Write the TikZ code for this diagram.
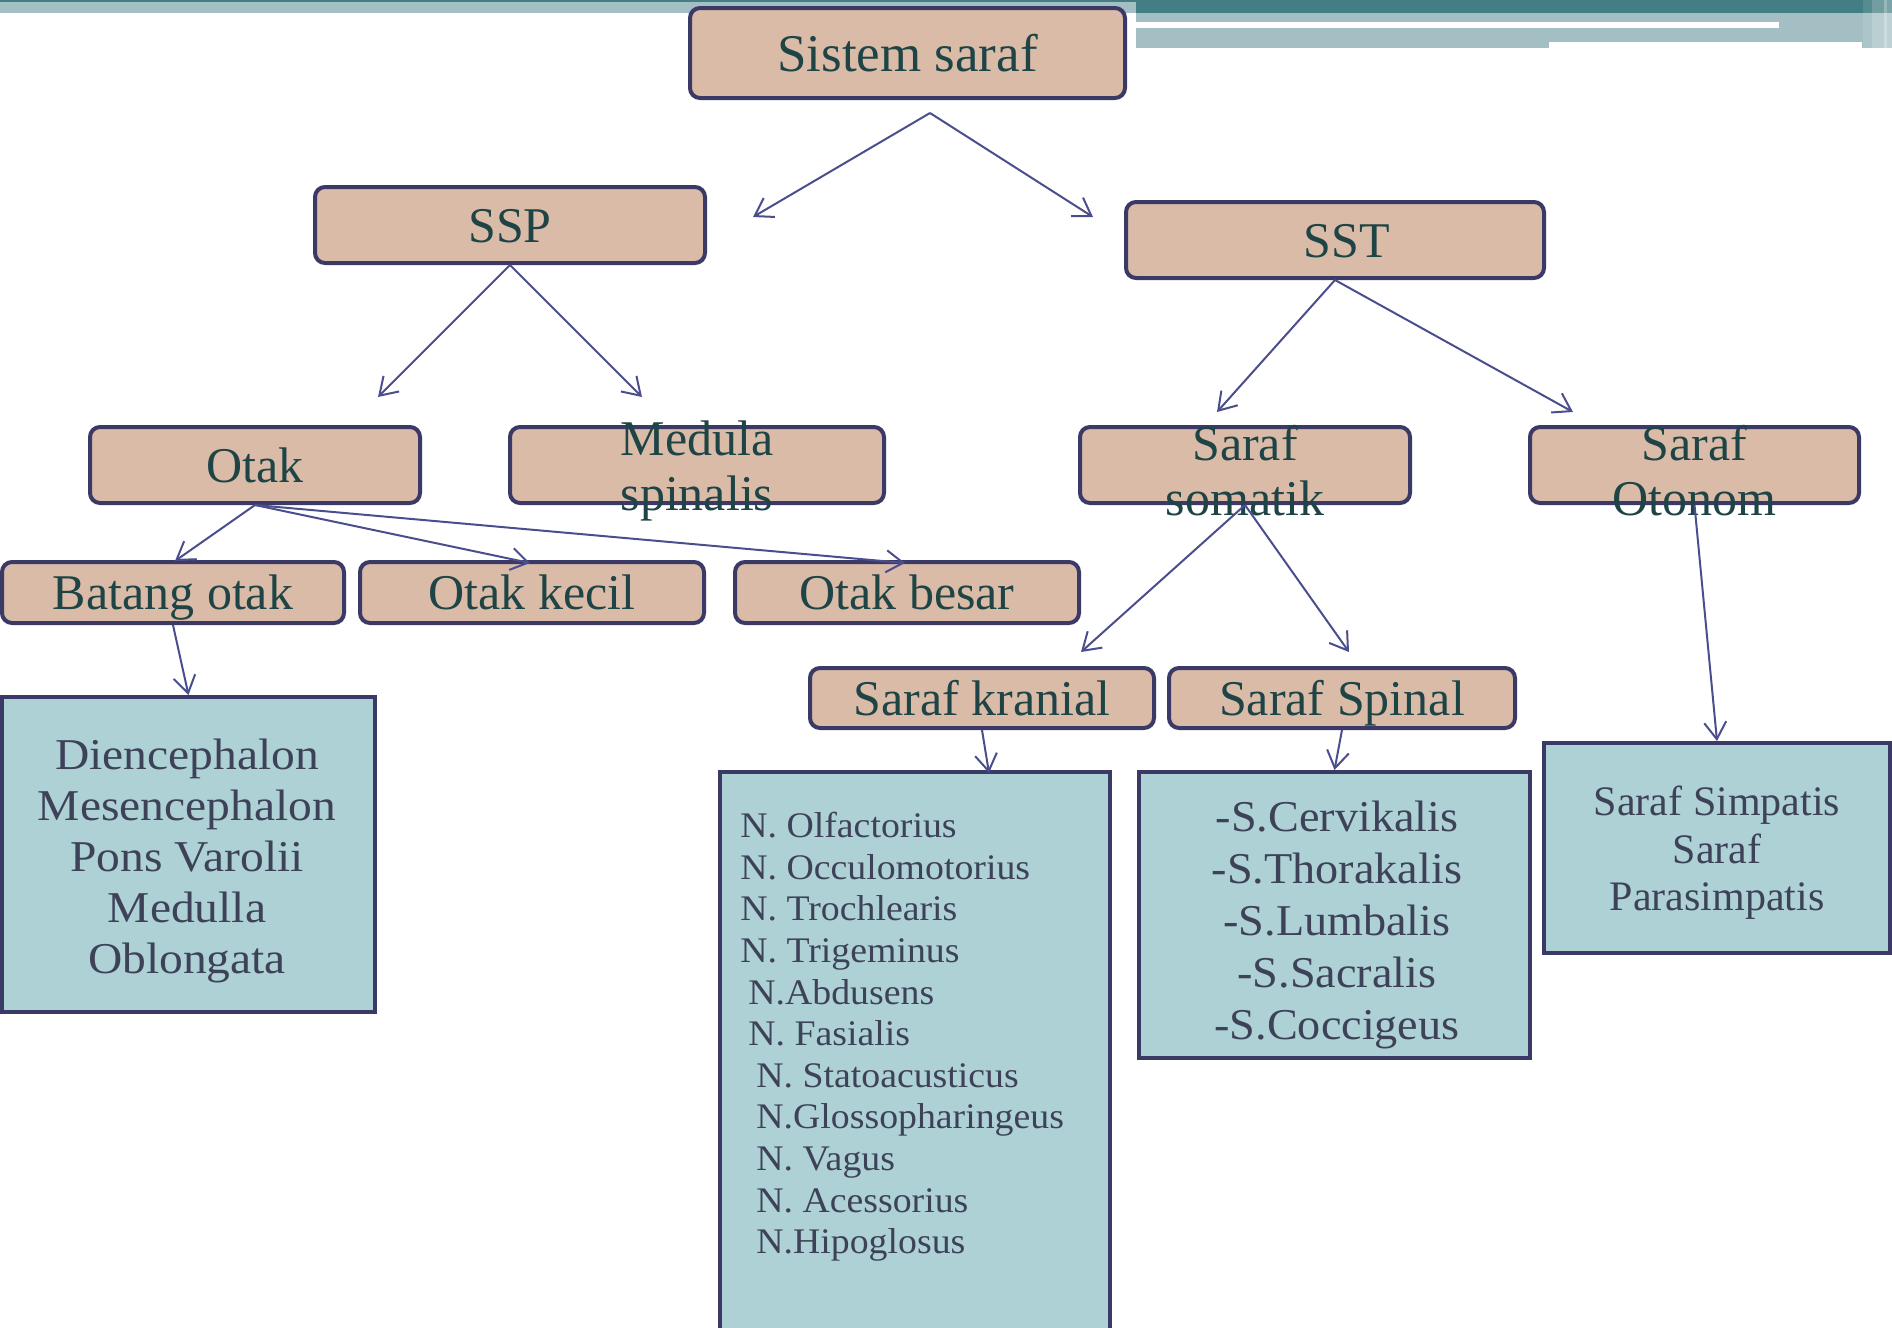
\documentclass[tikz,border=0pt]{standalone}
\usepackage{fontspec}
\setmainfont{Liberation Serif}
\newfontfamily\widefont[FakeStretch=1.08]{Liberation Serif}
\newfontfamily\nfont[FakeStretch=1.05]{Liberation Serif}
\usetikzlibrary{arrows.meta}
\definecolor{band}{HTML}{437E84}
\definecolor{bandlight}{HTML}{A3BFC3}
\definecolor{tanfill}{HTML}{D9BBA8}
\definecolor{edge}{HTML}{3B3A66}
\definecolor{aqua}{HTML}{ADD1D5}
\definecolor{ink}{HTML}{1F4446}
\definecolor{listink}{HTML}{3E4258}
\definecolor{arrowc}{HTML}{4B4E8C}

\begin{document}
\begin{tikzpicture}[x=0.5pt,y=-0.5pt,>={Straight Barb[length=8.5pt,width=11pt]},
        tanbox/.style={draw=edge,line width=2pt,fill=tanfill,rounded corners=5pt,inner sep=0pt,
            text=ink,font=\fontsize{25}{27.5}\selectfont,text height=17pt,text depth=0pt},
        twoline/.style={text=ink,font=\fontsize{25}{27.5}\selectfont,align=center,inner sep=0pt,yshift=-3pt},
        aquabox/.style={draw=edge,line width=2pt,fill=aqua,inner sep=0pt},
        listtext/.style={text=listink,align=center,inner sep=0pt},
        conn/.style={->,draw=arrowc,line width=1pt}]
                \useasboundingbox (0,0) rectangle (1892,1328);

                \fill [bandlight] (0,0) rectangle (1136,13);
                \fill [band] (0,0) rectangle (1136,2);
                \fill [band] (1136,0) rectangle (1892,13);
                \fill [bandlight] (1136,13) rectangle (1892,48);
                \fill [white] (1136,22) rectangle (1779,28);
                \fill [white] (1549,42) rectangle (1862,48);
                \fill [white,opacity=0.1] (1863,0) rectangle (1872,48);
                \fill [white,opacity=0.25] (1872,0) rectangle (1884,48);
                \fill [white,opacity=0.45] (1884,0) rectangle (1887,48);
                \fill [white,opacity=0.3] (1887,0) rectangle (1892,48);

                \node[tanbox,minimum width=217.5pt,minimum height=45pt,font=\fontsize{26.5}{29}\selectfont,text height=18pt] (sis) at (907.5,53) {Sistem saraf};
                \node[tanbox,minimum width=195pt,minimum height=38pt] (ssp) at (510,225) {SSP};
                \node[tanbox,minimum width=209pt,minimum height=38pt] (sst) at (1335,240) {\hspace*{12pt}SST};

                \node[tanbox,minimum width=165pt,minimum height=38pt] (otak) at (255,465) {Otak};
                \node[tanbox,minimum width=187pt,minimum height=38pt,label={[twoline]center:Medula\\spinalis}] (medula) at (697,465) {};
                \node[tanbox,minimum width=165pt,minimum height=38pt,label={[twoline]center:Saraf\\somatik}] (somatik) at (1245,465) {};
                \node[tanbox,minimum width=164.5pt,minimum height=38pt,label={[twoline]center:Saraf\\Otonom}] (otonom) at (1694.5,465) {};

                \node[tanbox,minimum width=171pt,minimum height=30.5pt] (batang) at (173,592.5) {Batang otak};
                \node[tanbox,minimum width=172pt,minimum height=30.5pt] (kecil) at (532,592.5) {Otak kecil};
                \node[tanbox,minimum width=172pt,minimum height=30.5pt] (besar) at (907,592.5) {Otak besar};
                \node[tanbox,minimum width=172pt,minimum height=30pt] (kranial) at (982,698) {Saraf kranial};
                \node[tanbox,minimum width=173pt,minimum height=30pt] (spinal) at (1342,698) {Saraf Spinal};

                \node[aquabox,minimum width=186.5pt,minimum height=157.5pt] (dien) at (188.5,854.5) {};
                \node[aquabox,minimum width=195pt,minimum height=284pt] (nbox) at (915,1056) {};
                \node[aquabox,minimum width=195.5pt,minimum height=143pt] (sbox) at (1334.5,915) {};
                \node[aquabox,minimum width=173pt,minimum height=105pt] (simp) at (1717,848) {};

                \node[listtext,font=\widefont\fontsize{22}{25.5}\selectfont] (dientext) at (187,861)
                    {Diencephalon\\Mesencephalon\\Pons Varolii\\Medulla\\Oblongata};
                \node[listtext,align=left,anchor=north west,font=\nfont\fontsize{18}{20.8}\selectfont] (ntext) at (740,812)
                    {N. Olfactorius\\N. Occulomotorius\\N. Trochlearis\\N. Trigeminus\\
                     \hspace*{4pt}N.Abdusens\\\hspace*{4pt}N. Fasialis\\\hspace*{8pt}N. Statoacusticus\\
                     \hspace*{8pt}N.Glossopharingeus\\\hspace*{8pt}N. Vagus\\\hspace*{8pt}N. Acessorius\\
                     \hspace*{8pt}N.Hipoglosus};
                \node[listtext,font=\nfont\fontsize{22}{25.9}\selectfont] (stext) at (1337,925)
                    {-S.Cervikalis\\-S.Thorakalis\\-S.Lumbalis\\-S.Sacralis\\-S.Coccigeus};
                \node[listtext,font=\fontsize{21}{23.75}\selectfont] (simptext) at (1717,853)
                    {Saraf Simpatis\\Saraf\\Parasimpatis};

                \coordinate (sisA) at (930,113);
                \coordinate (sspT) at (753,217);
                \coordinate (sstT) at (1093,217);
                \coordinate (otakT) at (378,397);
                \coordinate (medT) at (642,397);
                \coordinate (somT) at (1217,412);
                \coordinate (otoT) at (1573,412);
                \coordinate (batT) at (175,561);
                \coordinate (kecT) at (530,563);
                \coordinate (besT) at (905,563);
                \coordinate (kraT) at (1081,652);
                \coordinate (spiT) at (1349,652);
                \coordinate (nboxT) at (989,773);

                \draw[conn] (sisA) -- (sspT);
                \draw[conn] (sisA) -- (sstT);
                \draw[conn] (ssp.south) -- (otakT);
                \draw[conn] (ssp.south) -- (medT);
                \draw[conn] (sst.south) -- (somT);
                \draw[conn] (sst.south) -- (otoT);
                \draw[conn] (otak.south) -- (batT);
                \draw[conn] (otak.south) -- (kecT);
                \draw[conn] (otak.south) -- (besT);
                \draw[conn] (somatik.south) -- (kraT);
                \draw[conn] (somatik.south) -- (spiT);
                \draw[conn] (otonom.south) -- (simp.north);
                \draw[conn] (batang.south) -- (dien.north);
                \draw[conn] (kranial.south) -- (nboxT);
                \draw[conn] (spinal.south) -- (sbox.north);
            \end{tikzpicture}
\end{document}
